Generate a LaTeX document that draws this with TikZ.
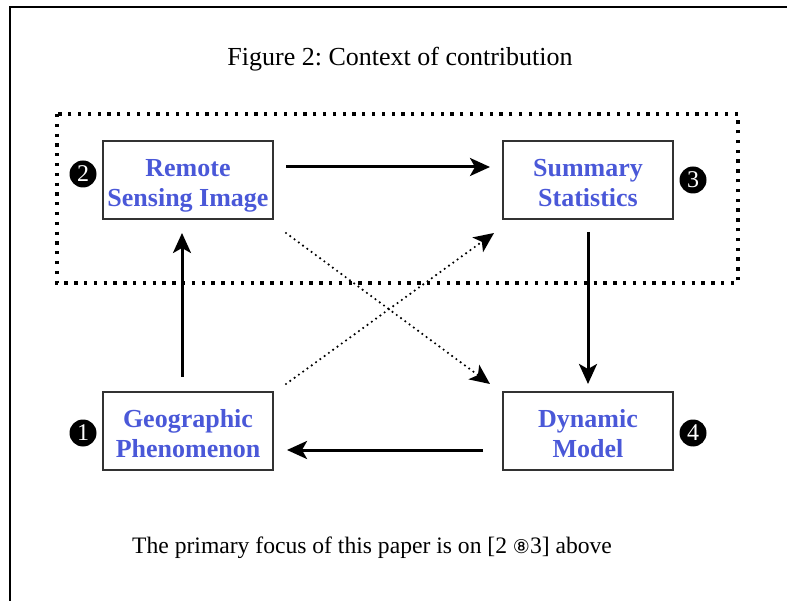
\documentclass[tikz,border=0pt]{standalone}
\usepackage{fontspec}
\setmainfont{Liberation Serif}
\newfontfamily\symfont{DejaVu Sans}
\usetikzlibrary{arrows.meta}
\frenchspacing
\definecolor{boxblue}{RGB}{74,88,216}
\definecolor{boxline}{RGB}{50,50,50}
\newcommand{\twolines}[2]{\raisebox{-5.5pt}[\height][\depth]{\begin{tabular}{@{}c@{}}#1\\#2\end{tabular}}}
\tikzset{
  stagebox/.style={draw=boxline, line width=1.3pt, minimum width=170pt, minimum height=78pt,
    inner sep=0pt, align=center, text=boxblue, font=\fontsize{26}{30}\selectfont\bfseries},
  badge/.style={circle, fill=black, text=white, inner sep=0pt, minimum size=27pt,
    font=\fontsize{24}{24}\selectfont},
  flow/.style={line width=3pt, -{Stealth[length=20pt,width=18pt,inset=5pt]}},
  dotflow/.style={line width=2.4pt, line cap=round, dash pattern=on 0pt off 5.3pt,
    -{Stealth[length=20pt,width=18pt,inset=5pt]}},
  caption/.style={font=\fontsize{26}{30}\selectfont, inner sep=0pt}
}
\begin{document}
\begin{tikzpicture}[x=1pt,y=-1pt]
\useasboundingbox (0,0) rectangle (787,601);
% frame
\draw[line width=2pt] (10,601) -- (10,6.7) -- (787,6.7);
% title
\node[caption, anchor=base] (title) at (400,66) {Figure 2: Context of contribution};
% dotted region
\draw[line width=3.3pt, dash pattern=on 3.3pt off 6.5pt] (57,114) rectangle (738,283);
% boxes
\node[stagebox] (rs) at (188,180) {\twolines{Remote}{Sensing Image}};
\node[stagebox] (ss) at (588,180) {\twolines{Summary}{Statistics}};
\node[stagebox] (gp) at (188,431) {\twolines{Geographic}{Phenomenon}};
\node[stagebox] (dm) at (588,431) {\twolines{Dynamic}{Model}};
% badges
\node[badge] (b2) at (83,174) {2};
\node[badge] (b3) at (693,180) {3};
\node[badge] (b1) at (83,433) {1};
\node[badge] (b4) at (693,433) {4};
% connector anchors
\coordinate (rsR) at (286,167);
\coordinate (ssL) at (490,167);
\coordinate (gpT) at (182,377);
\coordinate (rsB) at (182,233);
\coordinate (ssB) at (588,232);
\coordinate (dmT) at (588,384);
\coordinate (dmL) at (483,450);
\coordinate (gpR) at (287,450);
\coordinate (rsD) at (286,233);
\coordinate (dmD) at (490,384);
\coordinate (gpD) at (286,384);
\coordinate (ssD) at (494,233);
% arrows
\draw[flow] (rsR) -- (ssL);
\draw[flow] (gpT) -- (rsB);
\draw[flow] (ssB) -- (dmT);
\draw[flow] (dmL) -- (gpR);
\draw[dotflow] (rsD) -- (dmD);
\draw[dotflow] (gpD) -- (ssD);
% footer
\node[font=\fontsize{23.6}{28}\selectfont, inner sep=0pt, anchor=base west] (foot) at (132,553) {The primary focus of this paper is on [2 {\symfont\fontsize{19}{24}\selectfont ⑧}3] above};
\end{tikzpicture}
\end{document}
